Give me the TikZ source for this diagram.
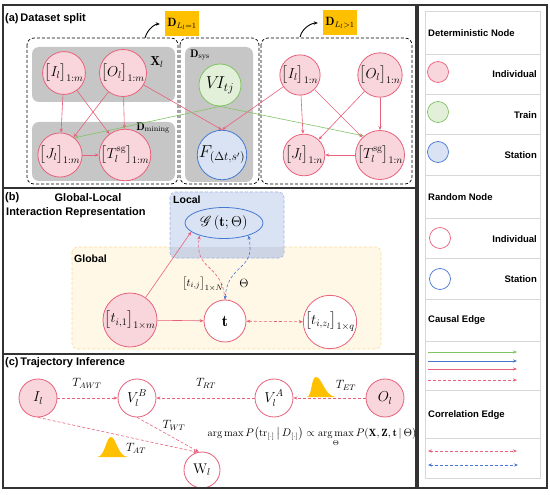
\documentclass[tikz,border=0pt]{standalone}
\usepackage{amsmath}
\usepackage{mathrsfs}
\usepackage{fontspec}
\setsansfont{Liberation Sans}
\usetikzlibrary{arrows.meta,shapes.geometric,calc}
\definecolor{pinkline}{RGB}{232,96,122}
\definecolor{pinkfill}{RGB}{248,214,220}
\definecolor{greenline}{RGB}{130,195,100}
\definecolor{greenfill}{RGB}{226,240,217}
\definecolor{blueline}{RGB}{70,120,210}
\definecolor{bluefill}{RGB}{218,227,243}
\definecolor{greybox}{RGB}{198,198,198}
\definecolor{lblorange}{RGB}{255,192,0}
\definecolor{localborder}{RGB}{160,180,230}
\definecolor{globalfill}{RGB}{255,248,230}
\definecolor{globalborder}{RGB}{250,220,150}
\definecolor{overlapfill}{RGB}{205,212,228}
\definecolor{legline}{RGB}{215,215,215}
\definecolor{framecol}{RGB}{50,50,50}
\tikzset{
  ttl/.style={font=\sffamily\bfseries\fontsize{11}{13}\selectfont, anchor=west, inner sep=0pt},
  legtxt/.style={font=\sffamily\bfseries\fontsize{9.5}{11}\selectfont, inner sep=0pt},
  mfont/.style={font=\fontsize{14}{14}\selectfont},
  ind/.style={circle, draw=pinkline, fill=pinkfill, line width=0.8pt, minimum size=40pt, inner sep=0pt, mfont},
  rind/.style={circle, draw=pinkline, fill=white, line width=0.8pt, minimum size=40pt, inner sep=0pt, mfont},
  trainn/.style={circle, draw=greenline, fill=greenfill, line width=0.8pt, minimum size=42pt, inner sep=0pt, font=\fontsize{18}{18}\selectfont},
  stationn/.style={circle, draw=blueline, fill=bluefill, line width=0.8pt, minimum size=42pt, inner sep=0pt, font=\fontsize{17}{17}\selectfont},
  tip/.style={-{Stealth[length=4pt,width=3.2pt]}},
  ptip/.style={{Stealth[length=4pt,width=3.2pt]}-{Stealth[length=4pt,width=3.2pt]}},
  pedge/.style={draw=pinkline, line width=0.6pt, tip},
  gedge/.style={draw=greenline, line width=0.6pt, tip},
  bedge/.style={draw=blueline, line width=0.6pt, tip},
  pdash/.style={draw=pinkline, line width=0.6pt, dash pattern=on 3pt off 2pt, tip},
  bdash/.style={draw=blueline, line width=0.6pt, dash pattern=on 3pt off 2pt, tip},
  splitbox/.style={draw=black, line width=0.7pt, dash pattern=on 3pt off 2pt, rounded corners=7pt},
  gbox/.style={fill=greybox, rounded corners=7pt},
  lbl/.style={fill=lblorange, minimum width=34pt, minimum height=25pt, inner sep=0pt, font=\fontsize{12}{12}\selectfont},
  mlabel/.style={font=\fontsize{11}{11}\selectfont, inner sep=0pt},
}
\begin{document}
\begin{tikzpicture}[x=1pt,y=-1pt]
\useasboundingbox (0,0) rectangle (550,495);

% ---------------- Panel (a) ----------------
\fill[gbox] (32,47) rectangle (175,102);
\fill[gbox] (32,122) rectangle (175,181);
\fill[gbox] (185,47) rectangle (253,182);
\draw[splitbox] (27,38) rectangle (178,184);
\draw[splitbox] (180,38) rectangle (259,184);
\draw[splitbox] (261,38) rectangle (412,184);

\node[ttl] (ta) at (5,19) {(a)\,Dataset split};

\node[lbl] (L1) at (182,24) {$\mathbf{D}_{L_l=1}$};
\node[lbl] (L2) at (340,23) {$\mathbf{D}_{L_l>1}$};
\coordinate (c1) at (145,38);
\coordinate (c2) at (300,37);
\draw[line width=0.9pt, -{Stealth[length=4pt,width=3.5pt]}, shorten >=5pt] (c1) to[out=75,in=180] (L1.west);
\draw[line width=0.9pt, -{Stealth[length=4pt,width=3.5pt]}, shorten >=5pt] (c2) to[out=75,in=180] (L2.west);

\node[mlabel, font=\fontsize{13}{13}\selectfont] (xl) at (157,62) {$\mathbf{X}_l$};
\node[mlabel] (dm) at (153,128) {$\mathbf{D}_{\mathrm{mining}}$};
\node[mlabel] (ds) at (200,55) {$\mathbf{D}_{\mathrm{sys}}$};

\node[ind] (I1m) at (64,73) {$\big[I_l\big]_{1:m}$};
\node[ind] (O1m) at (123,73) {$\big[O_l\big]_{1:m}$};
\node[ind] (J1m) at (60,155) {$\big[J_l\big]_{1:m}$};
\node[ind] (T1m) at (125,155) {$\big[T_l^{\mathrm{sg}}\big]_{1:m}$};
\node[trainn] (VI) at (220,85) {$V\!I_{tj}$};
\node[stationn] (F) at (222,155) {$F_{(\Delta t,s')}$};
\node[ind] (I1n) at (300,75) {$\big[I_l\big]_{1:n}$};
\node[ind] (O1n) at (380,75) {$\big[O_l\big]_{1:n}$};
\node[ind] (J1n) at (304,155) {$\big[J_l\big]_{1:n}$};
\node[ind] (T1n) at (380,155) {$\big[T_l^{\mathrm{sg}}\big]_{1:n}$};

\draw[pedge] (I1m) -- (J1m);
\draw[pedge] (I1m) -- (T1m);
\draw[pedge] (O1m) -- (J1m);
\draw[pedge] (O1m) -- (T1m);
\draw[pedge] (J1m) -- (T1m);
\draw[pedge] (O1m) -- (F.north);
\draw[pedge] (I1n) -- (F.north);
\draw[gedge] (VI.south) -- (J1m.50);
\draw[gedge] (VI.south) -- (T1n.130);
\draw[pedge] (I1n) -- (J1n);
\draw[pedge] (I1n) -- (T1n);
\draw[pedge] (O1n) -- (J1n);
\draw[pedge] (O1n) -- (T1n);
\draw[pedge] (T1n) -- (J1n);

% ---------------- Panel (b) ----------------
\draw[fill=globalfill, draw=globalborder, line width=0.6pt, dash pattern=on 3pt off 2pt, rounded corners=5pt] (72,247) rectangle (381,349);
\path[fill=bluefill, rounded corners=5pt] (170,192) rectangle (284,258);
\begin{scope}
\clip (170,247) rectangle (284,258);
\fill[overlapfill, rounded corners=5pt] (170,192) rectangle (284,258);
\end{scope}
\draw[draw=localborder, line width=0.6pt, dash pattern=on 3pt off 2pt, rounded corners=5pt] (170,192) rectangle (284,258);

\node[ttl] (tb1) at (5,198) {(b)};
\node[ttl] (tb2) at (88,198) [anchor=center] {Global-Local};
\node[ttl] (tb3) at (6,213) {Interaction Representation};
\node[ttl, font=\sffamily\bfseries\fontsize{10.5}{12}\selectfont] (loc) at (173,200) {Local};
\node[ttl, font=\sffamily\bfseries\fontsize{10.5}{12}\selectfont] (glo) at (74,259) {Global};

\node[ellipse, draw=blueline, line width=0.8pt, minimum width=78pt, minimum height=31pt, inner sep=0pt, font=\fontsize{14}{14}\selectfont] (G) at (224,223) {$\mathscr{G}\left(\mathbf{t};\Theta\right)$};
\node[ind, font=\fontsize{14}{14}\selectfont] (ti1) at (130,320) {$\big[t_{i,1}\big]_{1\times m}$};
\node[rind, minimum size=42pt, font=\fontsize{16}{16}\selectfont] (t) at (225,321) {$\mathbf{t}$};
\node[rind, font=\fontsize{14}{14}\selectfont] (tiz) at (330,322) {$\big[t_{i,z_l}\big]_{1\times q}$};

\draw[pedge] (ti1) -- (G.195);
\draw[pedge] (ti1) -- (t);
\draw[pinkline, line width=0.6pt, dash pattern=on 3pt off 2pt, ptip] (t) -- (tiz);
\draw[pdash] (t.north) .. controls (222,262) and (194,272) .. (G.207);
\draw[blueline, line width=0.6pt, dash pattern=on 3pt off 2pt, ptip] (t.north) .. controls (228,262) and (256,272) .. (G.333);
\node[mlabel] (tij) at (203,284) {$\big[t_{i,j}\big]_{1\times N}$};
\node[mlabel, font=\fontsize{12}{12}\selectfont] (th) at (244,283) {$\Theta$};

% ---------------- Panel (c) ----------------
\node[ttl] (tc) at (5,363) {(c)\,Trajectory Inference};

\fill[lblorange] (97,457) .. controls (105,457) and (106,437) .. (111,437) .. controls (116,437) and (118,457) .. (128,457) -- cycle;
\fill[lblorange] (307,397) .. controls (312,397) and (311,377) .. (316,377) .. controls (322,377) and (325,397) .. (336,397) -- cycle;

\node[ind, minimum size=38pt, font=\fontsize{14}{14}\selectfont] (Il) at (38,398) {$I_l$};
\node[rind, minimum size=38pt, font=\fontsize{14}{14}\selectfont] (VB) at (137,398) {$V_l^B$};
\node[rind, minimum size=36pt, font=\fontsize{14}{14}\selectfont] (W) at (202,470) {$\mathrm{W}_l$};
\node[rind, minimum size=38pt, font=\fontsize{14}{14}\selectfont] (VA) at (274,398) {$V_l^A$};
\node[ind, minimum size=38pt, font=\fontsize{14}{14}\selectfont] (Ol) at (385,398) {$O_l$};

\draw[pdash] (Il) -- (VB);
\draw[pdash] (VA) -- (VB);
\draw[pdash] (Ol) -- (VA);
\draw[pdash] (Il.south) -- (W.105);
\draw[pdash] (VB.south) -- (W.100);

\node[mlabel, font=\fontsize{12}{12}\selectfont] (tawt) at (87,383) {$T_{AWT}$};
\node[mlabel, font=\fontsize{12}{12}\selectfont] (trt) at (206,383) {$T_{RT}$};
\node[mlabel, font=\fontsize{12}{12}\selectfont] (tet) at (346,385) {$T_{ET}$};
\node[mlabel, font=\fontsize{12}{12}\selectfont] (twt) at (174,425) {$T_{WT}$};
\node[mlabel, font=\fontsize{12}{12}\selectfont] (tat) at (136,448) {$T_{AT}$};

\node[mlabel, font=\fontsize{10.5}{11}\selectfont] (formula) at (312,437) {$\arg\max P\big(\mathrm{tr}_{[\cdot]}\,\big|\,D_{[\cdot]}\big)\propto \mathop{\arg\max}\limits_{\Theta} P(\mathbf{X},\mathbf{Z},\mathbf{t}\,|\,\Theta)$};

% ---------------- Frames ----------------
\draw[framecol, line width=1.2pt] (3,5) rectangle (416,488);
\draw[framecol, line width=1.2pt] (3,188) -- (416,188);
\draw[framecol, line width=1.2pt] (3,354) -- (416,354);
\draw[framecol, line width=1.2pt] (418,5) rectangle (547,488);

% ---------------- Legend ----------------
\draw[legline, line width=0.8pt] (425,11) rectangle (540,478);
\foreach \yy in {54,94,134,175,218,258,299,341,390,438}
  \draw[legline, line width=0.8pt] (425,\yy) -- (540,\yy);

\node[legtxt, anchor=west] (h1) at (428,33) {Deterministic Node};
\node[legtxt, anchor=west] (h2) at (428,197) {Random Node};
\node[legtxt, anchor=west] (h3) at (428,320) {Causal Edge};
\node[legtxt, anchor=west] (h4) at (428,415) {Correlation Edge};

\node[circle, draw=pinkline, fill=pinkfill, line width=0.7pt, minimum size=21pt, inner sep=0pt] (lc1) at (438,72) {};
\node[circle, draw=greenline, fill=greenfill, line width=0.7pt, minimum size=21pt, inner sep=0pt] (lc2) at (438,112) {};
\node[circle, draw=blueline, fill=bluefill, line width=0.7pt, minimum size=21pt, inner sep=0pt] (lc3) at (438,152) {};
\node[circle, draw=pinkline, fill=white, line width=0.7pt, minimum size=21pt, inner sep=0pt] (lc4) at (440,238) {};
\node[circle, draw=blueline, fill=white, line width=0.7pt, minimum size=21pt, inner sep=0pt] (lc5) at (440,279) {};

\node[legtxt, anchor=east] (lt1) at (537,74) {Individual};
\node[legtxt, anchor=east] (lt2) at (537,115) {Train};
\node[legtxt, anchor=east] (lt3) at (537,155) {Station};
\node[legtxt, anchor=east] (lt4) at (537,239) {Individual};
\node[legtxt, anchor=east] (lt5) at (537,279) {Station};

\coordinate (a1s) at (428,352); \coordinate (a1e) at (517,352);
\coordinate (a2s) at (428,361); \coordinate (a2e) at (517,361);
\coordinate (a3s) at (428,369); \coordinate (a3e) at (517,369);
\coordinate (a4s) at (428,380); \coordinate (a4e) at (517,380);
\coordinate (a5s) at (428,451); \coordinate (a5e) at (517,451);
\coordinate (a6s) at (428,465); \coordinate (a6e) at (518,465);
\draw[gedge] (a1s) -- (a1e);
\draw[bedge] (a2s) -- (a2e);
\draw[pedge] (a3s) -- (a3e);
\draw[pdash] (a4s) -- (a4e);
\draw[pinkline, line width=0.6pt, dash pattern=on 3pt off 2pt, ptip] (a5s) -- (a5e);
\draw[blueline, line width=0.6pt, dash pattern=on 3pt off 2pt, ptip] (a6s) -- (a6e);
\end{tikzpicture}
\end{document}
